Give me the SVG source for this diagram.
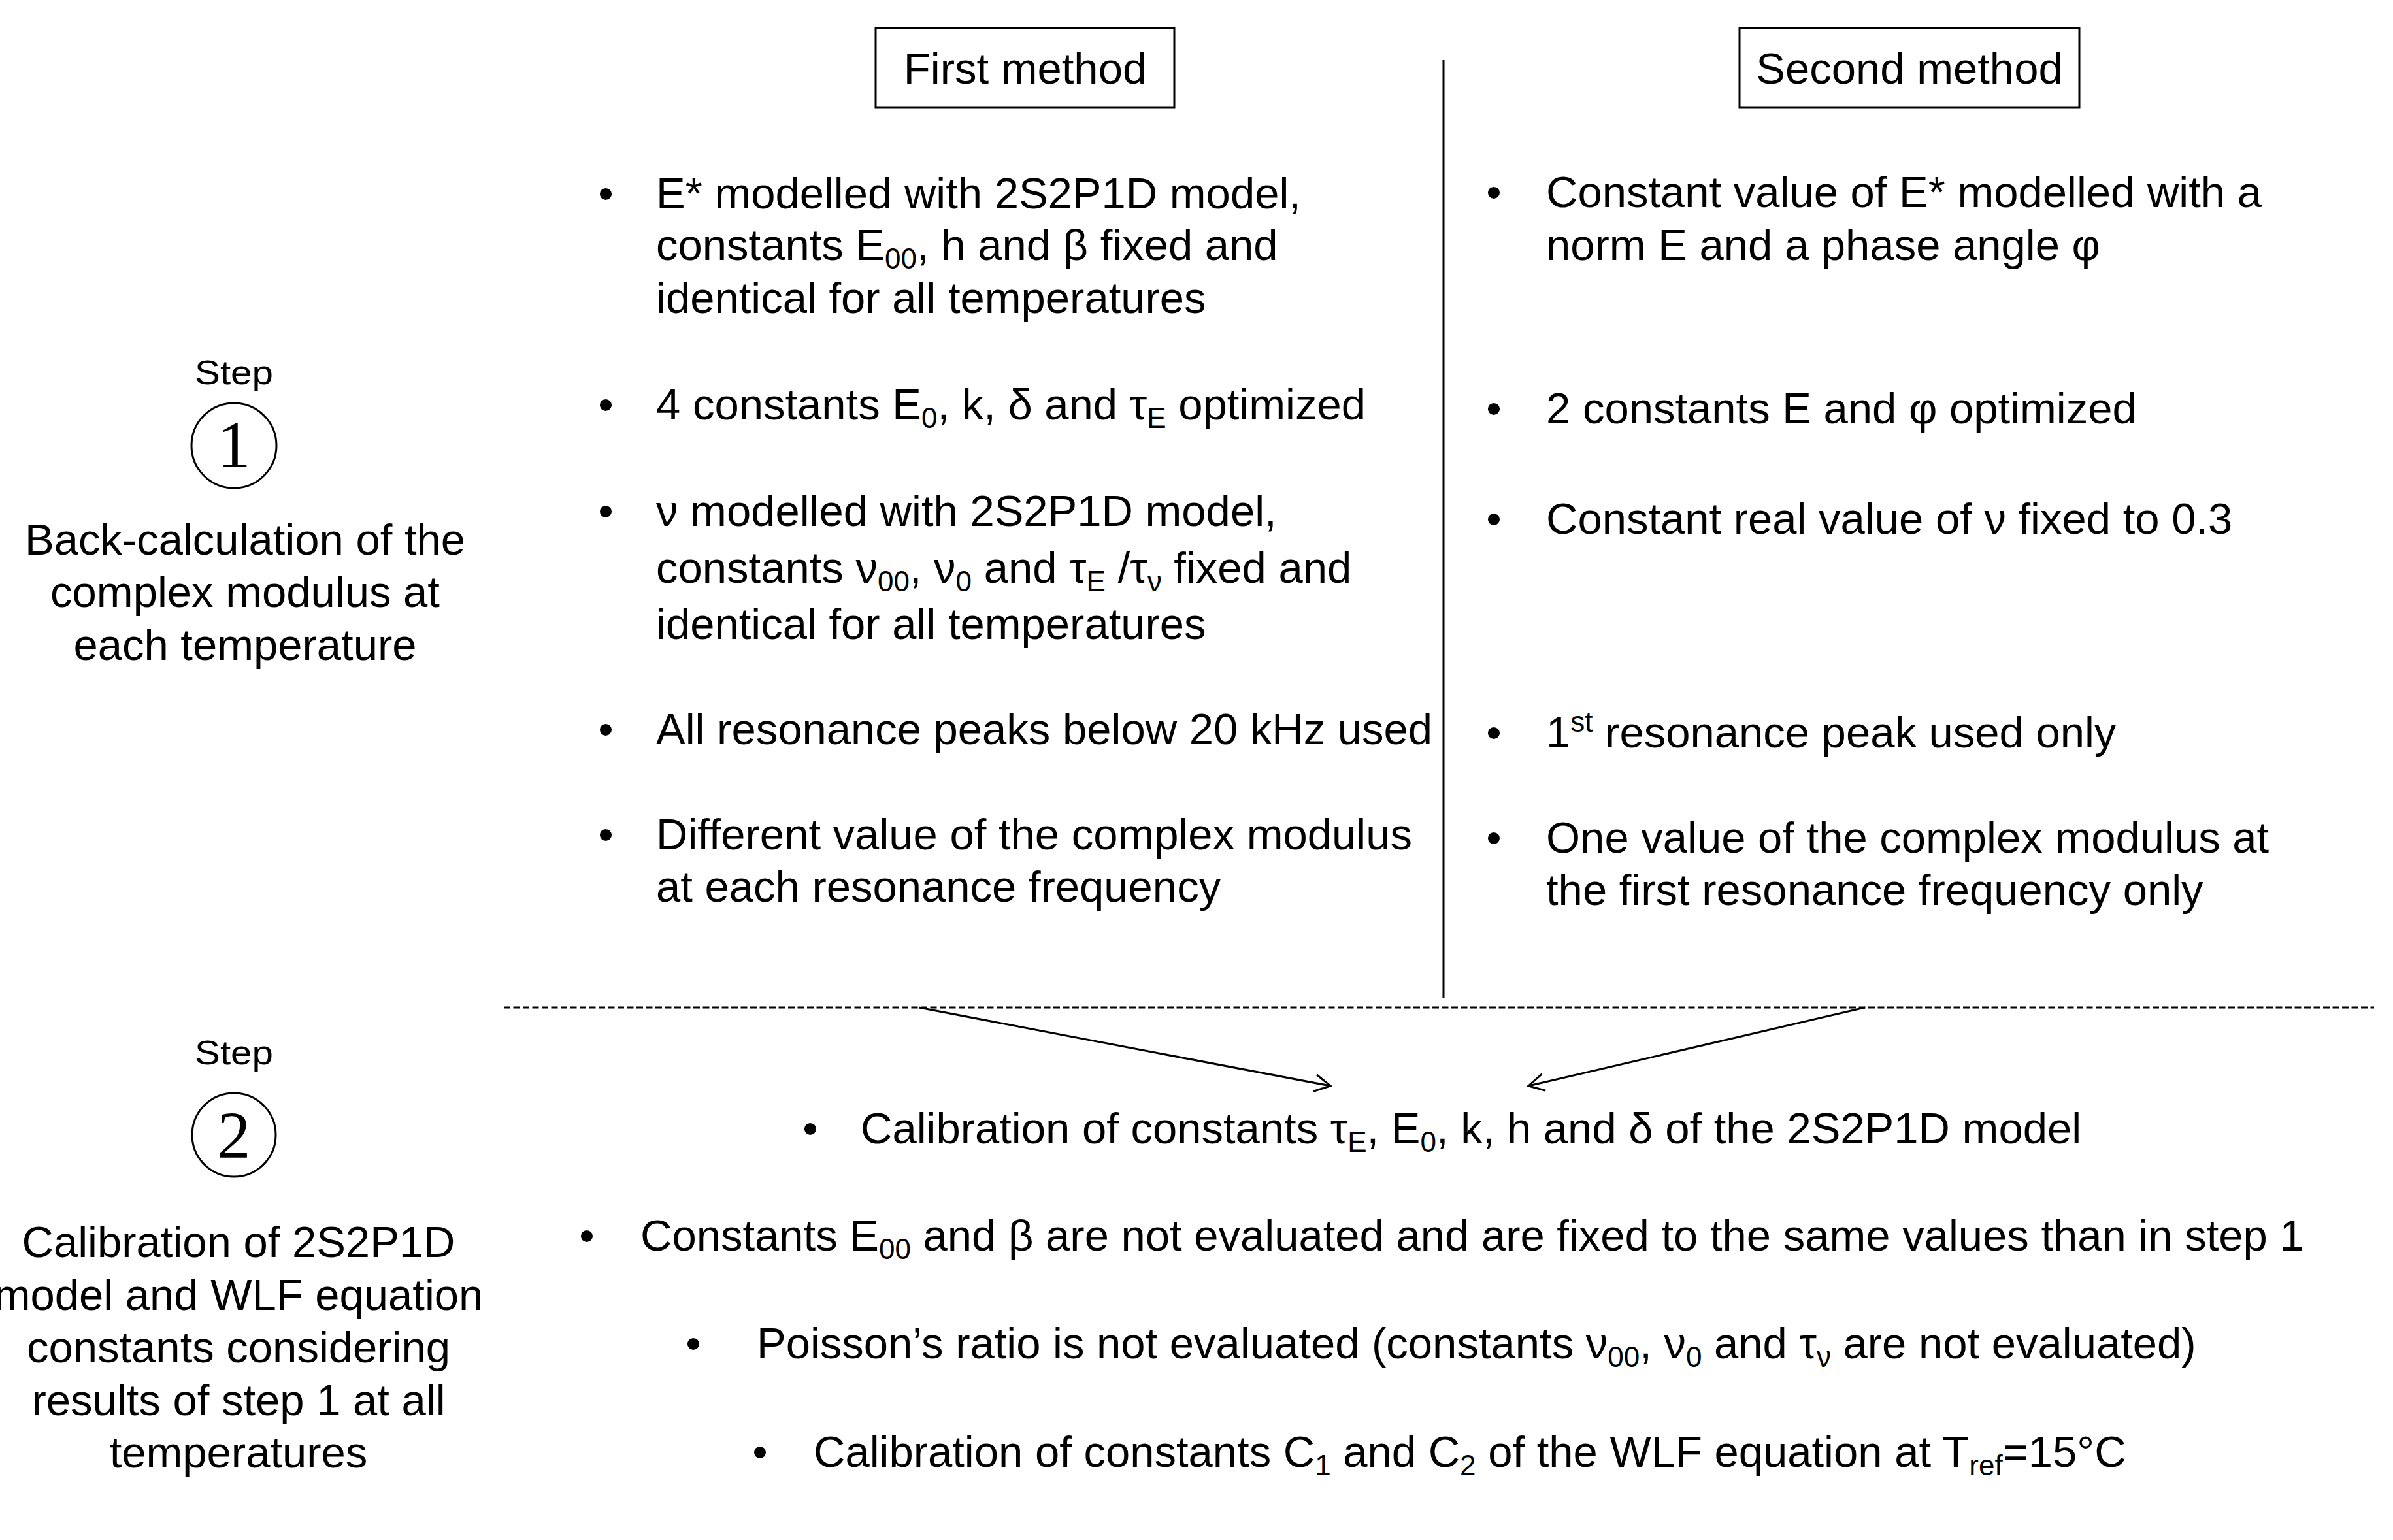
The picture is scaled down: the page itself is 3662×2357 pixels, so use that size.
<svg xmlns="http://www.w3.org/2000/svg" width="3662" height="2357" viewBox="0 0 3662 2357">
<style>
  text { font-family: "Liberation Sans", Arial, sans-serif; font-size: 67px; fill: #000; }
  .c { text-anchor: middle; }
  .b { text-anchor: middle; }
  .s { font-size: 44px; }
  .step { font-size: 52px; text-anchor: middle; }
  .num { font-family: "Liberation Serif", "Times New Roman", serif; font-size: 102px; text-anchor: middle; }
  .box { fill: #fff; stroke: #000; stroke-width: 3; }
  .ln { stroke: #000; stroke-width: 3; fill: none; }
</style>
<defs>
  <marker id="arr" viewBox="-30 -20 40 40" refX="0" refY="0" markerWidth="40" markerHeight="40" markerUnits="userSpaceOnUse" orient="auto">
    <path d="M-24,-13 L0,0 L-24,13" fill="none" stroke="#000" stroke-width="3"/>
  </marker>
</defs>
<rect width="3662" height="2357" fill="#fff"/>

<g id="connectors">
  <line class="ln" x1="2209" y1="92" x2="2209" y2="1527"/>
  <line class="ln" x1="771" y1="1542" x2="3633" y2="1542" stroke-dasharray="10 4.5"/>
  <line class="ln" x1="1406" y1="1542" x2="2036" y2="1662" marker-end="url(#arr)"/>
  <line class="ln" x1="2854" y1="1542" x2="2339" y2="1662" marker-end="url(#arr)"/>
</g>

<g id="first-method-header">
  <rect class="box" x="1340" y="43" width="457" height="122"/>
  <text class="c" x="1569" y="128">First method</text>
</g>
<g id="second-method-header">
  <rect class="box" x="2662" y="43" width="520" height="122"/>
  <text class="c" x="2922" y="128">Second method</text>
</g>

<g id="step1">
  <text class="step" x="358" y="588" textLength="120" lengthAdjust="spacingAndGlyphs">Step</text>
  <circle cx="358" cy="682" r="65" fill="none" stroke="#000" stroke-width="3"/>
  <text class="num" x="358" y="715">1</text>
  <text class="c" x="375" y="849">Back-calculation of the</text>
  <text class="c" x="375" y="929">complex modulus at</text>
  <text class="c" x="375" y="1010">each temperature</text>
</g>

<g id="step2">
  <text class="step" x="358" y="1629" textLength="120" lengthAdjust="spacingAndGlyphs">Step</text>
  <circle cx="358" cy="1737" r="64" fill="none" stroke="#000" stroke-width="3"/>
  <text class="num" x="358" y="1772">2</text>
  <text class="c" x="365" y="1924">Calibration of 2S2P1D</text>
  <text class="c" x="365" y="2005">model and WLF equation</text>
  <text class="c" x="365" y="2085">constants considering</text>
  <text class="c" x="365" y="2166">results of step 1 at all</text>
  <text class="c" x="365" y="2246">temperatures</text>
</g>

<g id="first-method-items">
  <text class="b" x="927" y="319">•</text>
  <text x="1004" y="319">E* modelled with 2S2P1D model,</text>
  <text x="1004" y="398">constants E<tspan class="s" dy="13">00</tspan><tspan dy="-13">, h and β fixed and</tspan></text>
  <text x="1004" y="479">identical for all temperatures</text>

  <text class="b" x="927" y="642">•</text>
  <text x="1004" y="642">4 constants E<tspan class="s" dy="13">0</tspan><tspan dy="-13">, k, δ and τ</tspan><tspan class="s" dy="13">E</tspan><tspan dy="-13"> optimized</tspan></text>

  <text class="b" x="927" y="805">•</text>
  <text x="1004" y="805">ν modelled with 2S2P1D model,</text>
  <text x="1004" y="892">constants ν<tspan class="s" dy="13">00</tspan><tspan dy="-13">, ν</tspan><tspan class="s" dy="13">0</tspan><tspan dy="-13"> and τ</tspan><tspan class="s" dy="13">E</tspan><tspan dy="-13"> /τ</tspan><tspan class="s" dy="13">ν</tspan><tspan dy="-13"> fixed and</tspan></text>
  <text x="1004" y="978">identical for all temperatures</text>

  <text class="b" x="927" y="1139">•</text>
  <text x="1004" y="1139">All resonance peaks below 20 kHz used</text>

  <text class="b" x="927" y="1300">•</text>
  <text x="1004" y="1300">Different value of the complex modulus</text>
  <text x="1004" y="1380">at each resonance frequency</text>
</g>

<g id="second-method-items">
  <text class="b" x="2286" y="317">•</text>
  <text x="2366" y="317">Constant value of E* modelled with a</text>
  <text x="2366" y="398">norm E and a phase angle φ</text>

  <text class="b" x="2286" y="648">•</text>
  <text x="2366" y="648">2 constants E and φ optimized</text>

  <text class="b" x="2286" y="817">•</text>
  <text x="2366" y="817">Constant real value of ν fixed to 0.3</text>

  <text class="b" x="2286" y="1144">•</text>
  <text x="2366" y="1144">1<tspan class="s" dy="-24">st</tspan><tspan dy="24"> resonance peak used only</tspan></text>

  <text class="b" x="2286" y="1305">•</text>
  <text x="2366" y="1305">One value of the complex modulus at</text>
  <text x="2366" y="1385">the first resonance frequency only</text>
</g>

<g id="step2-items">
  <text class="b" x="1240" y="1750">•</text>
  <text x="1317" y="1750">Calibration of constants τ<tspan class="s" dy="13">E</tspan><tspan dy="-13">, E</tspan><tspan class="s" dy="13">0</tspan><tspan dy="-13">, k, h and δ of the 2S2P1D model</tspan></text>

  <text class="b" x="898" y="1914">•</text>
  <text x="980" y="1914">Constants E<tspan class="s" dy="13">00</tspan><tspan dy="-13"> and β are not evaluated and are fixed to the same values than in step 1</tspan></text>

  <text class="b" x="1061" y="2079">•</text>
  <text x="1158" y="2079">Poisson’s ratio is not evaluated (constants ν<tspan class="s" dy="13">00</tspan><tspan dy="-13">, ν</tspan><tspan class="s" dy="13">0</tspan><tspan dy="-13"> and τ</tspan><tspan class="s" dy="13">ν</tspan><tspan dy="-13"> are not evaluated)</tspan></text>

  <text class="b" x="1163" y="2245">•</text>
  <text x="1245" y="2245">Calibration of constants C<tspan class="s" dy="13">1</tspan><tspan dy="-13"> and C</tspan><tspan class="s" dy="13">2</tspan><tspan dy="-13"> of the WLF equation at T</tspan><tspan class="s" dy="13">ref</tspan><tspan dy="-13">=15°C</tspan></text>
</g>
</svg>
